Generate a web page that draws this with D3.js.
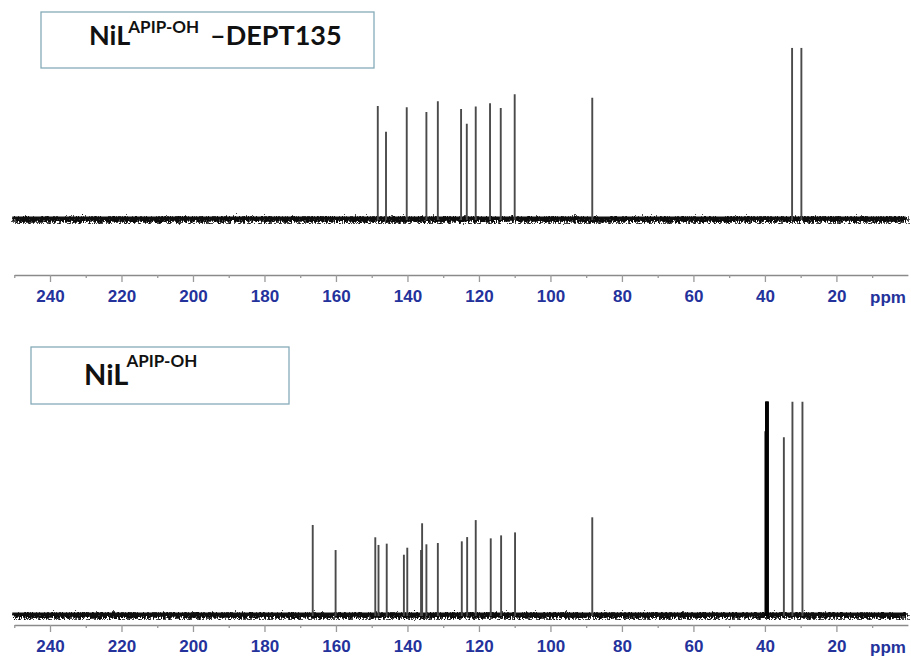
<!DOCTYPE html>
<html>
<head>
<meta charset="utf-8">
<script src="https://cdn.jsdelivr.net/npm/d3@7"></script>
<style>
  html, body { margin: 0; padding: 0; background: #fff; }
  svg { display: block; }
</style>
</head>
<body>
<div id="chart"></div>
<script>
// peak lists (ppm) en relatieve hoogtes (100 = hoogste piek van het paneel)
const dept135Shifts = [148.3, 146.0, 140.2, 134.7, 131.5, 125.0, 123.4, 120.9, 116.9, 113.9, 110.0, 88.3, 32.4, 29.8]
const dept135Heights = [65.8, 50.7, 65.0, 62.2, 68.5, 64.0, 55.4, 65.4, 67.4, 64.6, 72.6, 70.6, 100, 100]

const carbonShifts = [166.5, 160.1, 149.0, 148.1, 145.8, 141.0, 140.05, 136.2, 135.9, 134.7, 131.5, 124.8, 123.3, 120.9, 116.7, 113.8, 109.9, 88.3, 34.7, 32.3, 29.5]
const carbonHeights = [41.9, 30.1, 36.1, 32.5, 33.1, 27.9, 31.2, 30.1, 42.7, 32.8, 33.4, 34.2, 36.2, 44.2, 35.6, 37.0, 38.4, 45.5, 83.2, 100, 100]

// DMSO-d6 septet, loopt boven de rand van de plot uit
const solventShifts = [39.95, 39.8, 39.65, 39.5, 39.35, 39.2, 39.05]
const solventHeights = [86, 130, 150, 160, 150, 130, 110]

const majorTicks = [240, 220, 200, 180, 160, 140, 120, 100, 80, 60, 40, 20]
const minorTicks = [250, 230, 210, 190, 170, 150, 130, 110, 90, 70, 50, 30, 10]

const width = 911
const height = 657

const svg = d3.select('#chart').append('svg')
    .attr('width', width)
    .attr('height', height)

// ruis filter voor de basislijn
const defs = svg.append('defs')
const noise = defs.append('filter')
    .attr('id', 'noise')
    .attr('filterUnits', 'userSpaceOnUse')
    .attr('x', 0).attr('y', 0).attr('width', width).attr('height', height)
noise.append('feTurbulence')
    .attr('type', 'turbulence')
    .attr('baseFrequency', '0.9 0.25')
    .attr('numOctaves', 2)
    .attr('seed', 3)
    .attr('result', 'turb')
noise.append('feDisplacementMap')
    .attr('in', 'SourceGraphic')
    .attr('in2', 'turb')
    .attr('scale', 7)
    .attr('xChannelSelector', 'R')
    .attr('yChannelSelector', 'G')

//ppm schaal, loopt van links (hoog) naar rechts (laag)
const xScale = d3.scaleLinear()
    .domain([250, 0])
    .range([14.25, 907.9])

const panels = [
    { id: 'top', shifts: dept135Shifts, heights: dept135Heights, base: 218, top: 47.7, axisY: 275,
      box: { x: 41, y: 12, w: 333, h: 56 }, labelX: 89, labelY: 45, supY: 33, nilSize: 27, supSize: 17, extra: '\u2013DEPT135', extraX: 210 },
    { id: 'bottom', shifts: carbonShifts, heights: carbonHeights, base: 614, top: 401.5, axisY: 625,
      box: { x: 31, y: 347, w: 258, h: 57 }, labelX: 84, labelY: 385, supY: 366.5, nilSize: 29, supSize: 17, extra: null }
]

panels.forEach(p => {
    const yScale = d3.scaleLinear()
        .domain([0, 100])
        .range([p.base, p.top])

    const g = svg.append('g').attr('class', 'panel-' + p.id)

    // clip zodat het oplosmiddel niet boven de plot uit komt
    defs.append('clipPath').attr('id', 'clip-' + p.id)
        .append('rect')
        .attr('x', 0).attr('y', p.top)
        .attr('width', width).attr('height', p.base - p.top + 20)

    // basislijn: dichte kern plus ruwe rand
    const baseLine = d3.line()([[xScale(250) - 2, p.base], [xScale(0.6), p.base]])
    g.append('path')
        .attr('d', baseLine)
        .attr('stroke', '#111')
        .attr('stroke-width', 3)
        .attr('fill', 'none')
    g.append('path')
        .attr('d', baseLine)
        .attr('stroke', '#0a0a0a')
        .attr('stroke-width', 5.5)
        .attr('fill', 'none')
        .attr('filter', 'url(#noise)')

    const peaks = g.append('g').attr('clip-path', `url(#clip-${p.id})`)

    peaks.selectAll('line.peak')
        .data(d3.zip(p.shifts, p.heights))
        .enter().append('line')
        .attr('class', 'peak')
        .attr('x1', d => xScale(d[0]))
        .attr('x2', d => xScale(d[0]))
        .attr('y1', p.base + 2)
        .attr('y2', d => yScale(d[1]))
        .attr('stroke', '#4a4a4a')
        .attr('stroke-width', 1.9)

    if (p.id === 'bottom') {
        peaks.selectAll('line.solvent')
            .data(d3.zip(solventShifts, solventHeights))
            .enter().append('line')
            .attr('class', 'solvent')
            .attr('x1', d => xScale(d[0]))
            .attr('x2', d => xScale(d[0]))
            .attr('y1', p.base + 2)
            .attr('y2', d => yScale(d[1]))
            .attr('stroke', '#000')
            .attr('stroke-width', 1.2)
    }

    // ppm as
    const axisG = g.append('g')
        .attr('transform', `translate(0, ${p.axisY})`)

    const minorAxis = d3.axisBottom(xScale)
        .tickValues(minorTicks)
        .tickSize(3)
        .tickSizeOuter(0)
        .tickFormat('')
    axisG.append('g').call(minorAxis)

    const majorAxis = d3.axisBottom(xScale)
        .tickValues(majorTicks)
        .tickSize(7)
        .tickSizeOuter(0)
        .tickPadding(8)
    const majorG = axisG.append('g').call(majorAxis)
    majorG.select('.domain').remove()

    axisG.selectAll('.domain')
        .attr('stroke', '#8a8a8a')
        .attr('stroke-width', 1.3)
    axisG.selectAll('.tick line')
        .attr('stroke', '#9a9a9a')
        .attr('stroke-width', 1.3)
    axisG.selectAll('.tick text')
        .attr('fill', '#24329c')
        .attr('font-family', '"Liberation Sans", Arial, sans-serif')
        .attr('font-weight', 'bold')
        .attr('font-size', 17)

    axisG.append('text')
        .attr('x', 888)
        .attr('y', 28)
        .attr('text-anchor', 'middle')
        .attr('fill', '#24329c')
        .attr('font-family', '"Liberation Sans", Arial, sans-serif')
        .attr('font-weight', 'bold')
        .attr('font-size', 17)
        .text('ppm')

    // label kader
    g.append('rect')
        .attr('x', p.box.x).attr('y', p.box.y)
        .attr('width', p.box.w).attr('height', p.box.h)
        .attr('fill', '#fff')
        .attr('stroke', '#86abb8')
        .attr('stroke-width', 1.3)

    const label = g.append('text')
        .attr('font-family', 'Lato, "Open Sans", sans-serif')
        .attr('font-weight', 'bold')
        .attr('fill', '#111')
    label.append('tspan')
        .attr('x', p.labelX).attr('y', p.labelY)
        .attr('font-size', p.nilSize)
        .text('NiL')
    label.append('tspan')
        .attr('y', p.supY)
        .attr('dx', -2)
        .attr('font-size', p.supSize)
        .text('APIP-OH')
    if (p.extra) {
        label.append('tspan')
            .attr('x', p.extraX).attr('y', p.labelY)
            .attr('font-size', p.nilSize)
            .text(p.extra)
    }
})
</script>
</body>
</html>
